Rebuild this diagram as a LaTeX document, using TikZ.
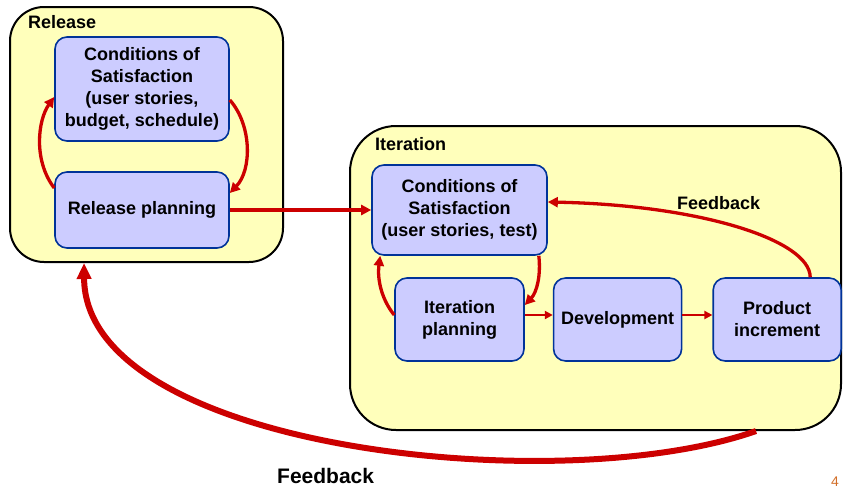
\documentclass[tikz,border=0pt]{standalone}
\usepackage{fontspec}
\setmainfont{Liberation Sans}
\usetikzlibrary{arrows.meta,positioning,calc}
\definecolor{paleYellow}{RGB}{255,255,187}
\definecolor{boxLilac}{RGB}{204,204,255}
\definecolor{boxBlue}{RGB}{0,51,153}
\definecolor{flowRed}{RGB}{204,0,0}
\definecolor{pageOrange}{RGB}{210,110,40}

\begin{document}
\begin{tikzpicture}[
  x=1pt, y=-1pt,
  frame/.style={rectangle, rounded corners=#1, draw=black,
                line width=2pt, fill=paleYellow},
  task/.style={rectangle, rounded corners=12pt, draw=boxBlue,
               line width=1.6pt, fill=boxLilac, align=center,
               inner sep=0pt,
               font=\fontsize{18}{22}\selectfont\bfseries},
  title/.style={anchor=base west, inner sep=0pt,
                font=\fontsize{18}{21}\selectfont\bfseries},
  arr/.style={-{Triangle[length=10pt,width=10pt]}, line width=3.3pt, flowRed},
  thinarr/.style={-{Triangle[length=8pt,width=8pt]}, line width=2.6pt, flowRed},
  bigarr/.style={-{Triangle[length=16pt,width=14pt]}, line width=6pt, flowRed},
  node distance=28pt
]
  \useasboundingbox (0,0) rectangle (843,490);

  % the two frames
  \node[frame=34pt, minimum width=273pt, minimum height=255pt]
    (release) at (146.5,134.5) {};
  \node[frame=46pt, minimum width=491pt, minimum height=304pt]
    (iter) at (595.5,278) {};
  \node[title] (relTitle) at (28,28) {Release};
  \node[title] (iterTitle) at (375,150) {Iteration};

  % long feedback loop
  \draw[bigarr] ($(iter.south west)+(407,0)$)
    .. controls (560,500) and (85,450) .. ($(release.south west)+(75,0)$);
  \node[anchor=base west, inner sep=0pt,
        font=\fontsize{21}{24}\selectfont\bfseries]
    (fbBottom) at (277,483) {Feedback};

  % release boxes
  \node[task, minimum width=174pt, minimum height=104pt] (rcos) at (142,89)
    {Conditions of\\Satisfaction\\(user stories,\\budget, schedule)};
  \node[task, minimum width=174pt, minimum height=76pt] (rplan) at (142,210)
    {Release planning};

  % iteration boxes
  \node[task, minimum width=175pt, minimum height=90pt] (icos) at (459.5,210)
    {Conditions of\\Satisfaction\\(user stories, test)};
  \node[task, minimum width=129pt, minimum height=83pt] (iplan) at (459.5,319.5)
    {Iteration\\planning};
  \node[task, minimum width=128pt, minimum height=83pt, right=of iplan] (dev)
    {Development};
  \node[task, minimum width=128pt, minimum height=83pt, right=30pt of dev] (prod)
    {Product\\increment};

  % release loop
  \draw[arr] ($(rplan.west)+(0,-22)$)
    .. controls (33,160) and (38,120) .. ($(rcos.west)+(0,8)$);
  \draw[arr] ($(rcos.east)+(0,11)$)
    .. controls (252,125) and (252,170) .. ($(rplan.east)+(0,-17)$);
  \draw[arr] (rplan.east) -- (icos.west);

  % iteration loop
  \draw[arr] ($(iplan.west)+(0,-4.5)$)
    .. controls (382,300) and (377,280) .. ($(icos.south west)+(9,0)$);
  \draw[arr] ($(icos.south east)+(-9,0)$)
    .. controls (541,275) and (537,292) .. ($(iplan.east)+(0,-14.5)$);
  \draw[thinarr] ($(iplan.east)+(0,-4.5)$) -- ($(dev.west)+(0,-4.5)$);
  \draw[thinarr] ($(dev.east)+(0,-4.5)$) -- ($(prod.west)+(0,-4.5)$);
  \draw[arr] ($(prod.north)+(33,0)$)
    .. controls (810,240) and (700,205) .. ($(icos.east)+(0,-8)$);
  \node[title] (fbTop) at (677,209) {Feedback};

  \node[anchor=base west, inner sep=0pt, text=pageOrange,
        font=\fontsize{14}{16}\selectfont]
    (pageNo) at (831,486) {4};
\end{tikzpicture}
\end{document}
